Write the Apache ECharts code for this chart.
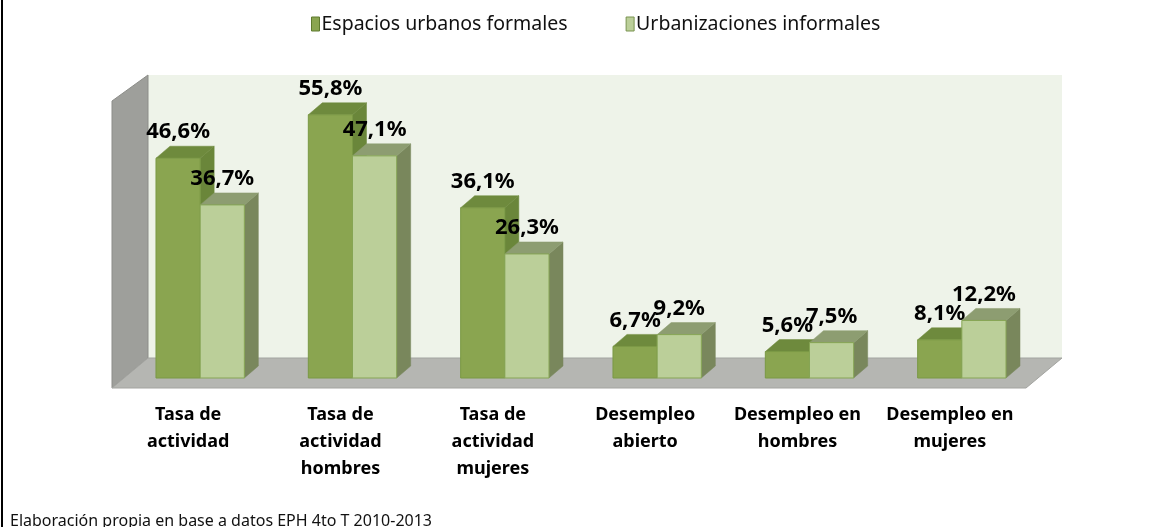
<!DOCTYPE html>
<html><head><meta charset="utf-8">
<script src="https://cdn.jsdelivr.net/npm/echarts@6/dist/echarts.min.js"></script>
<style>html,body{margin:0;padding:0;background:#fff;}#c{width:1166px;height:527px;}</style>
</head><body><div id="c"></div>
<script>
const categories = ['Tasa de\nactividad', 'Tasa de\nactividad\nhombres', 'Tasa de\nactividad\nmujeres', 'Desempleo\nabierto', 'Desempleo en\nhombres', 'Desempleo en\nmujeres'];
const formal = [46.6, 55.8, 36.1, 6.7, 5.6, 8.1];
const informal = [36.7, 47.1, 26.3, 9.2, 7.5, 12.2];
const seriesNames = ['Espacios urbanos formales', 'Urbanizaciones informales'];
const yMax = 60;

const FONT = '"Noto Sans", sans-serif';
const DX = 36, DY = 30;          // floor depth offset
const BX = 12, BY = 10;          // bar front face offset from floor front
const SX = 14, SY = 12;          // bar depth
const palette = [
  {front: '#8AA550', top: '#6E8A3D', side: '#6A863A', line: '#7A9844'},
  {front: '#BBCF99', top: '#8D9D71', side: '#79875C', line: '#86A554'}
];

function fmt(v) { return v.toFixed(1).replace('.', ',') + '%'; }

function barRender(si) {
  return function (params, api) {
    const idx = api.value(0), val = api.value(1);
    const c = api.coord([idx, val]);
    const base = api.coord([idx, 0]);
    const band = api.size([1, 0])[0];
    const w = band * 0.29;
    const x0 = c[0] + BX + (si === 0 ? -w : 0);
    const x1 = x0 + w;
    const yt = c[1] - BY, yb = base[1] - BY;
    const p = palette[si];
    return {
      type: 'group',
      children: [
        {type: 'polygon', shape: {points: [[x1, yt], [x1 + SX, yt - SY], [x1 + SX, yb - SY], [x1, yb]]},
          style: {fill: p.side, stroke: p.side, lineWidth: 0.5}},
        {type: 'polygon', shape: {points: [[x0, yt], [x0 + SX, yt - SY], [x1 + SX, yt - SY], [x1, yt]]},
          style: {fill: p.top, stroke: p.top, lineWidth: 0.5}},
        {type: 'rect', shape: {x: x0, y: yt, width: w, height: yb - yt},
          style: {fill: p.front, stroke: p.line, lineWidth: 1}},
        {type: 'text', x: (x0 + x1) / 2, y: yt - 26,
          style: {text: fmt(val), fill: '#000', font: 'bold 22px ' + FONT, align: 'center', verticalAlign: 'middle'}}
      ]
    };
  };
}

function frameRender(params, api) {
  const c0 = api.coord([0, 0]);
  const band = api.size([1, 0])[0];
  const left = c0[0] - band / 2;
  const right = left + band * categories.length;
  const bottom = c0[1];
  const top = api.coord([0, yMax])[1];
  return {
    type: 'group',
    children: [
      {type: 'rect', shape: {x: left + DX, y: top - DY, width: right - left, height: bottom - top},
        style: {fill: '#EEF3E9'}},
      {type: 'polygon', shape: {points: [[left, top - 4], [left + DX, top - DY], [left + DX, bottom - DY], [left, bottom]]},
        style: {fill: '#9E9F9B', stroke: '#8C8D89', lineWidth: 1}},
      {type: 'polygon', shape: {points: [[left, bottom], [left + DX, bottom - DY], [right + DX, bottom - DY], [right, bottom]]},
        style: {fill: '#B5B6B2', stroke: '#A3A4A0', lineWidth: 1}}
    ]
  };
}

const chart = echarts.init(document.getElementById('c'), null, {renderer: 'canvas'});
chart.setOption({
  animation: false,
  backgroundColor: '#fff',
  title: {
    text: 'Elaboración propia en base a datos EPH 4to T 2010-2013',
    left: 5, top: 508,
    textStyle: {fontFamily: FONT, fontSize: 16, fontWeight: 'normal', color: '#111'}
  },
  legend: {
    left: 306, top: 9,
    itemWidth: 8, itemHeight: 14, itemGap: 58,
    icon: 'rect',
    textStyle: {fontFamily: FONT, fontSize: 19.5, color: '#111', padding: [0, 0, 0, -3]},
    data: [
      {name: seriesNames[0], itemStyle: {color: palette[0].front, borderColor: '#5E7A2E', borderWidth: 1}},
      {name: seriesNames[1], itemStyle: {color: palette[1].front, borderColor: '#7A9450', borderWidth: 1}}
    ]
  },
  grid: {left: 112, width: 914, top: 105, height: 283},
  xAxis: {
    type: 'category', data: categories,
    axisLine: {show: false}, axisTick: {show: false},
    axisLabel: {interval: 0, margin: 13, fontFamily: FONT, fontWeight: 'bold', fontSize: 18, lineHeight: 27, color: '#000'}
  },
  yAxis: {type: 'value', min: 0, max: yMax, show: false, splitLine: {show: false}},
  series: [
    {type: 'custom', name: '__frame', silent: true, z: 1, renderItem: frameRender, data: [[0, 0]]},
    {type: 'custom', name: seriesNames[0], z: 2, itemStyle: {color: palette[0].front},
      renderItem: barRender(0), data: formal.map((v, i) => [i, v])},
    {type: 'custom', name: seriesNames[1], z: 3, itemStyle: {color: palette[1].front},
      renderItem: barRender(1), data: informal.map((v, i) => [i, v])}
  ],
  graphic: [
    {type: 'line', shape: {x1: 2, y1: 0, x2: 2, y2: 527}, style: {stroke: '#000', lineWidth: 2}}
  ]
});
</script>
</body></html>
